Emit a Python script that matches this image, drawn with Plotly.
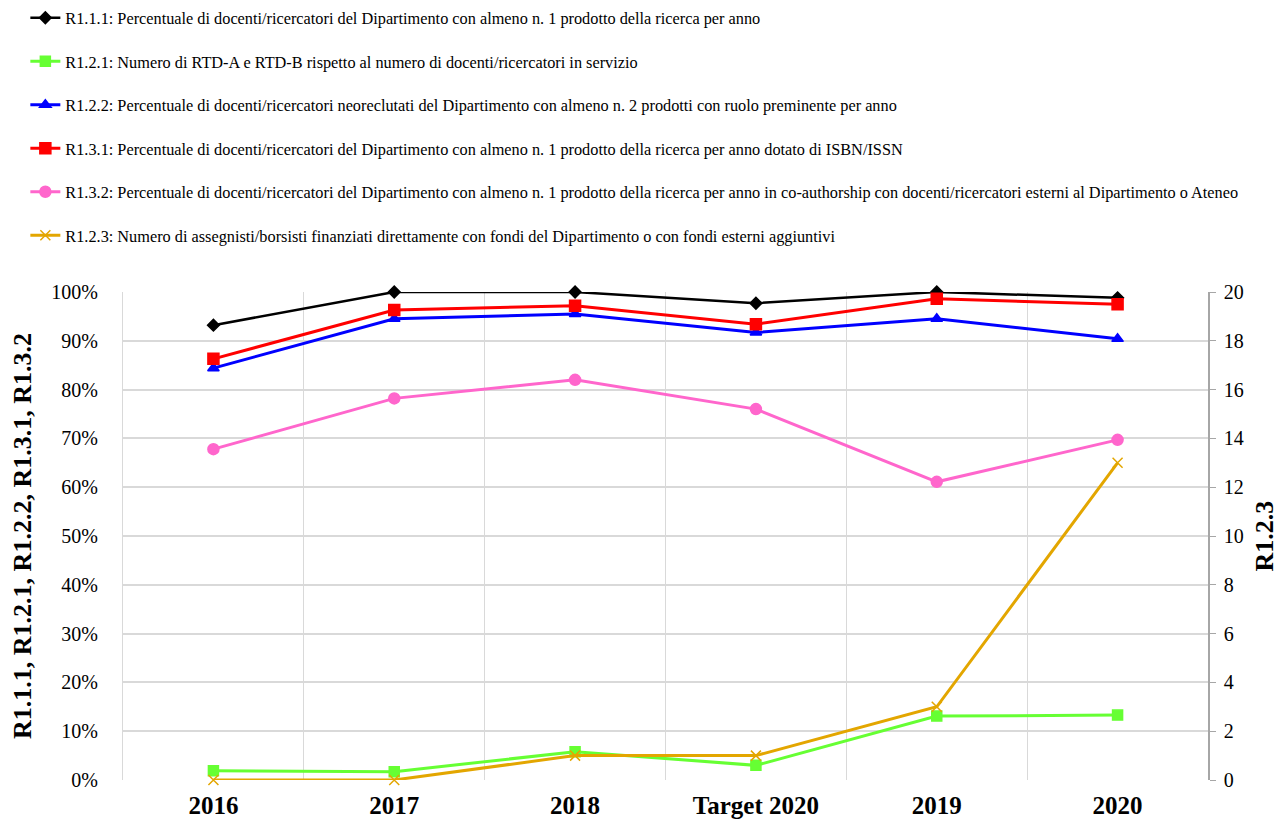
import plotly.graph_objects as go

# categories on the x axis
categories = ['2016', '2017', '2018', 'Target 2020', '2019', '2020']

# left axis series (fractions, shown as %)
r111 = [0.932, 1.0, 1.0, 0.977, 1.0, 0.988]
r121 = [0.019, 0.017, 0.058, 0.030, 0.131, 0.133]
r122 = [0.844, 0.945, 0.955, 0.917, 0.945, 0.904]
r131 = [0.863, 0.963, 0.972, 0.934, 0.986, 0.975]
r132 = [0.678, 0.782, 0.820, 0.760, 0.611, 0.697]

# right axis series (counts)
r123 = [0, 0, 1, 1, 3, 13]

names = [
    'R1.1.1: Percentuale di docenti/ricercatori del Dipartimento con almeno n. 1 prodotto della ricerca per anno',
    'R1.2.1: Numero di RTD-A e RTD-B rispetto al numero di docenti/ricercatori in servizio',
    'R1.2.2: Percentuale di docenti/ricercatori neoreclutati del Dipartimento con almeno n. 2 prodotti con ruolo preminente per anno',
    'R1.3.1: Percentuale di docenti/ricercatori del Dipartimento con almeno n. 1 prodotto della ricerca per anno dotato di ISBN/ISSN',
    'R1.3.2: Percentuale di docenti/ricercatori del Dipartimento con almeno n. 1 prodotto della ricerca per anno in co-authorship con docenti/ricercatori esterni al Dipartimento o Ateneo',
    'R1.2.3: Numero di assegnisti/borsisti finanziati direttamente con fondi del Dipartimento o con fondi esterni aggiuntivi',
]

serif = 'Liberation Serif, Times New Roman, serif'

fig = go.Figure()

# (values, colour, marker symbol, marker size, line width, axis)
series = [
    (r111, '#000000', 'diamond', 9, 2.5, 'y'),
    (r121, '#66ff33', 'square', 10, 3, 'y'),
    (r122, '#0000ff', 'triangle-up', 10, 3, 'y'),
    (r131, '#ff0000', 'square', 11, 3, 'y'),
    (r132, '#ff66cc', 'circle', 11, 3, 'y'),
    (r123, '#e3a600', 'x-thin-open', 10, 3, 'y2'),
]

for i, (vals, color, sym, size, width, ax) in enumerate(series):
    fig.add_trace(go.Scatter(
        x=categories, y=vals, name=names[i], yaxis=ax,
        mode='lines+markers', cliponaxis=False,
        line=dict(color=color, width=width),
        marker=dict(symbol=sym, size=size, color=color,
                    line=dict(color=color, width=1.5)),
        legendgroup=f'g{i}',
    ))

# page body adds 8px around the figure, so the figure is shrunk by that much
fig.update_layout(
    width=1278, height=813,
    paper_bgcolor='white', plot_bgcolor='white',
    margin=dict(l=115, r=78, t=284, b=41, autoexpand=False),
    font=dict(family=serif, color='black'),
    showlegend=True,
    legend=dict(
        x=-0.09, y=1.597, xanchor='left', yanchor='top',
        orientation='v', font=dict(size=16.3, family=serif),
        tracegroupgap=19.3, itemwidth=30,
        bgcolor='rgba(0,0,0,0)',
    ),
    xaxis=dict(
        type='category', range=[-0.5, 5.5],
        tickson='boundaries', showgrid=True, gridcolor='#d9d9d9', gridwidth=1,
        ticks='', showline=False, zeroline=False,
        tickfont=dict(size=25, family=serif, weight='bold'), ticklabelstandoff=8,
    ),
    yaxis=dict(
        range=[0, 1], dtick=0.1, tickformat='.0%',
        showgrid=True, gridcolor='#d9d9d9', gridwidth=1.5,
        showline=True, linecolor='#d9d9d9', ticks='', zeroline=False,
        tickfont=dict(size=20, family=serif), ticklabelstandoff=20,
        title=dict(text='R1.1.1, R1.2.1, R1.2.2, R1.3.1, R1.3.2',
                   font=dict(size=26, family=serif, weight='bold'), standoff=14),
    ),
    yaxis2=dict(
        range=[0, 20], dtick=2, overlaying='y', side='right',
        showgrid=False, zeroline=False,
        showline=True, linecolor='#a6a6a6', linewidth=1.5,
        ticks='outside', ticklen=6, tickcolor='#a6a6a6',
        tickfont=dict(size=20, family=serif), ticklabelstandoff=4,
        title=dict(text='R1.2.3',
                   font=dict(size=26, family=serif, weight='bold'), standoff=12),
    ),
)

fig.write_html('out.html')
